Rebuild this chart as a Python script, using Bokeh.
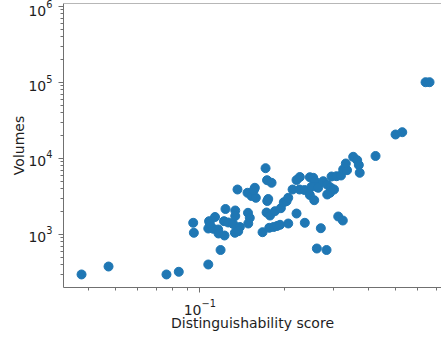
from bokeh.plotting import figure
from bokeh.models import FixedTicker, Span
from bokeh.embed import file_html
from bokeh.resources import INLINE

scores = [0.0378, 0.0472, 0.0760, 0.0841, 0.0947, 0.0952, 0.1072, 0.1072, 0.1116, 0.1163,
          0.1166, 0.1225, 0.1079, 0.1086, 0.1133, 0.1220, 0.1263, 0.1316, 0.1186, 0.1235,
          0.1338, 0.1338, 0.1334, 0.1390, 0.1371, 0.1486, 0.1508, 0.1489, 0.1363, 0.1480,
          0.1530, 0.1585, 0.1572, 0.1559, 0.1717, 0.1738, 0.1804, 0.1755, 0.1741, 0.1731,
          0.1781, 0.1675, 0.1770, 0.1834, 0.1887, 0.1934, 0.2069, 0.1854, 0.1947, 0.1995,
          0.2040, 0.2069, 0.2144, 0.2271, 0.2366, 0.2215, 0.2276, 0.2215, 0.2371, 0.2471,
          0.2541, 0.2575, 0.2611, 0.2505, 0.2648, 0.2471, 0.2562, 0.2705, 0.2618, 0.2835,
          0.2759, 0.2847, 0.2930, 0.3015, 0.2917, 0.2851, 0.2954, 0.3077, 0.3193, 0.3251,
          0.3355, 0.3322, 0.3121, 0.3241, 0.3530, 0.3648, 0.3697, 0.3724, 0.4242, 0.5000,
          0.5284, 0.6400, 0.6614]

volumes = [298, 379, 298, 323, 1425, 1053, 403, 1199, 1189, 1164,
           1031, 970, 1496, 1395, 1699, 1496, 1439, 1375, 625, 2165,
           2069, 1751, 1053, 1255, 1105, 1929, 1658, 1395, 3908, 3538,
           3211, 3040, 4116, 3828, 7455, 5183, 4790, 2932, 2759, 1947,
           1778, 1072, 1225, 1255, 1294, 1341, 1395, 2026, 2218, 2661,
           2743, 3040, 3908, 3908, 3850, 5213, 5709, 1889, 1425, 5674,
           5572, 5027, 4243, 4243, 4116, 3309, 2827, 1210, 654, 625,
           5027, 4549, 4154, 3908, 3538, 3360, 5796, 5849, 5975, 7165,
           7016, 8596, 1725, 1528, 10529, 9497, 8213, 6484, 10787, 20694,
           22190, 100900, 100900]

x_major = [0.1]
x_minor = [0.04, 0.05, 0.06, 0.07, 0.08, 0.09, 0.2, 0.3, 0.4, 0.5, 0.6, 0.7]
y_major = [1e3, 1e4, 1e5, 1e6]
y_minor = [k * 10 ** e for e in (2, 3, 4, 5) for k in range(2, 10)]

x_label = "Distinguishability score"
y_label = "Volumes"

FONT = "DejaVu Sans"
LINE = "#707070"
TEXT = "#1e1e1e"

p = figure(width=437, height=339, x_axis_type="log", y_axis_type="log",
           x_range=(0.03259, 0.7297), y_range=(200.7, 1.0953e6),
           output_backend="svg", toolbar_location=None,
           min_border_left=59, min_border_right=0, min_border_top=4, min_border_bottom=51)
p.margin = (-1, 0, -15, 4)

p.scatter(scores, volumes, size=9, color="#1f77b4", line_color="#1f77b4")

p.xgrid.visible = False
p.ygrid.visible = False
p.outline_line_color = None
p.background_fill_color = "white"
p.border_fill_color = "white"

p.xaxis.ticker = FixedTicker(ticks=x_major, minor_ticks=x_minor)
p.yaxis.ticker = FixedTicker(ticks=y_major, minor_ticks=y_minor)

for ax in (p.xaxis, p.yaxis):
    ax.axis_line_color = LINE
    ax.axis_line_width = 1
    ax.major_tick_line_color = LINE
    ax.minor_tick_line_color = LINE
    ax.major_tick_out = 5
    ax.major_tick_in = 0
    ax.minor_tick_out = 3
    ax.minor_tick_in = 0
    ax.major_label_text_font = FONT
    ax.major_label_text_font_size = "14px"
    ax.major_label_text_color = TEXT
    ax.axis_label_text_font = FONT
    ax.axis_label_text_font_size = "14px"
    ax.axis_label_text_font_style = "normal"
    ax.axis_label_text_color = TEXT

p.xaxis.axis_label = x_label
p.yaxis.axis_label = y_label
p.xaxis.major_label_standoff = 6
p.xaxis.axis_label_standoff = -3
p.yaxis.major_label_standoff = 6
p.yaxis.axis_label_standoff = -2

p.add_layout(Span(location=1.0953e6, dimension="width", line_color=LINE, line_width=1))

open("out.html", "w").write(file_html(p, INLINE))
